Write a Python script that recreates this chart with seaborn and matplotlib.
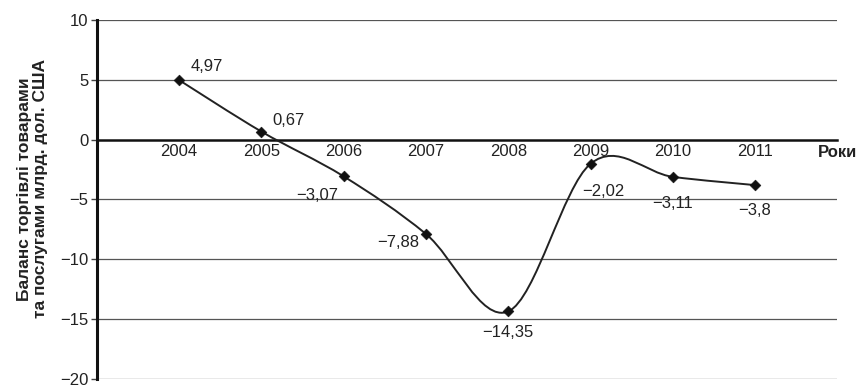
import matplotlib
matplotlib.use('Agg')
import matplotlib.pyplot as plt
from matplotlib.path import Path
from matplotlib.patches import PathPatch
import seaborn as sns
import pandas as pd

YEARS = [2004, 2005, 2006, 2007, 2008, 2009, 2010, 2011]
BALANCE = [4.97, 0.67, -3.07, -7.88, -14.35, -2.02, -3.11, -3.8]
LABELS = ['4,97', '0,67', '\u22123,07', '\u22127,88', '\u221214,35', '\u22122,02', '\u22123,11', '\u22123,8']
Y_TICKS = [10, 5, 0, -5, -10, -15, -20]
Y_LABEL = 'Баланс торгівлі товарами\nта послугами млрд. дол. США'
X_LABEL = 'Роки'

sns.set_style('white')
plt.rcParams['font.family'] = ['Liberation Sans', 'DejaVu Sans']

df = pd.DataFrame({'year': YEARS, 'value': BALANCE})

fig = plt.figure(figsize=(8.65, 3.9), dpi=100)
ax = fig.add_axes([0.112, 0.028, 0.856, 0.921])

# smoothed line (catmull-rom -> bezier), like the excel "smoothed line" option
pts = list(zip(YEARS, BALANCE))
verts = [pts[0]]
codes = [Path.MOVETO]
for i in range(len(pts) - 1):
    p0 = pts[i - 1] if i > 0 else pts[i]
    p1 = pts[i]
    p2 = pts[i + 1]
    p3 = pts[i + 2] if i + 2 < len(pts) else pts[i + 1]
    c1 = (p1[0] + (p2[0] - p0[0]) / 6, p1[1] + (p2[1] - p0[1]) / 6)
    c2 = (p2[0] - (p3[0] - p1[0]) / 6, p2[1] - (p3[1] - p1[1]) / 6)
    verts += [c1, c2, p2]
    codes += [Path.CURVE4] * 3
ax.add_patch(PathPatch(Path(verts, codes), facecolor='none', edgecolor='#222222', lw=1.4, zorder=3))

sns.scatterplot(data=df, x='year', y='value', marker='D', s=30, color='#111111',
                edgecolor='#111111', ax=ax, zorder=4, legend=False)

# value labels
offsets = [(8, 10, 'left'), (8, 8, 'left'), (-4, -14, 'right'), (-5, -6, 'right'),
           (0, -15, 'center'), (-6, -20, 'left'), (0, -19, 'center'), (0, -18, 'center')]
for x, y, lab, (dx, dy, ha) in zip(YEARS, BALANCE, LABELS, offsets):
    ax.annotate(lab, (x, y), xytext=(dx, dy), textcoords='offset points',
                ha=ha, va='center', fontsize=12, color='#222222', zorder=5)

for t in Y_TICKS:
    if t != 0:
        ax.axhline(t, color='#555555', lw=0.9, zorder=1)

ax.spines['bottom'].set_position(('data', 0))
ax.spines['bottom'].set_linewidth(1.8)
ax.spines['bottom'].set_color('#111111')
ax.spines['left'].set_linewidth(2.2)
ax.spines['left'].set_color('#111111')
ax.spines['top'].set_visible(False)
ax.spines['right'].set_visible(False)

ax.set_xlim(2003, 2012)
ax.set_ylim(-20, 10)
ax.set_yticks(Y_TICKS)
ax.set_yticklabels([str(t).replace('-', '\u2212') for t in Y_TICKS])
ax.set_xticks(YEARS)
ax.set_xticklabels([str(y) for y in YEARS])
ax.tick_params(axis='x', length=0, pad=3, labelsize=12, labelcolor='#222222')
ax.tick_params(axis='y', length=4, width=1, color='#444444', pad=2, left=True,
               labelsize=12, labelcolor='#222222')

ax.set_xlabel('')
ax.set_ylabel(Y_LABEL, fontsize=12.5, fontweight='bold', color='#222222', linespacing=1.05)
ax.yaxis.set_label_coords(-0.066, 0.53)
fig.text(0.945, 0.608, X_LABEL, fontsize=12, fontweight='bold', color='#222222', ha='left', va='center')

fig.savefig('out.png', dpi=100)
